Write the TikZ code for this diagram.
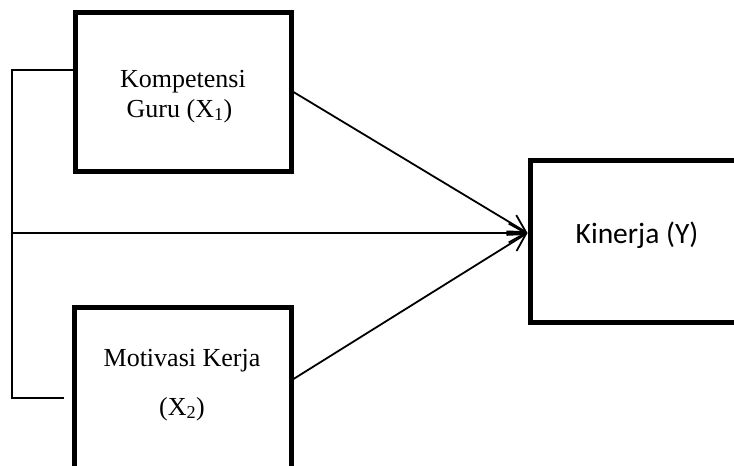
\documentclass[tikz,border=0pt]{standalone}
\usepackage{fontspec}
\setmainfont{Liberation Serif}
\newfontfamily\sansfam{Carlito}
\usetikzlibrary{arrows.meta}
\begin{document}
\begin{tikzpicture}[x=1pt,y=-1pt,
  box/.style={draw, line width=5pt, rectangle, inner sep=0pt},
  conn/.style={draw, line width=1.8pt},
  arr/.style={-{Straight Barb[length=17pt,width=19pt]}},
  serif/.style={inner sep=0pt, font=\fontsize{26}{31}\selectfont},
  sanstxt/.style={inner sep=0pt, font=\sansfam\fontsize{29.5}{34}\selectfont}]
\clip (0,0) rectangle (734,466);
\node[box, minimum width=215.5pt, minimum height=159pt] (b1) at (183.25,91.5) {};
\node[box, minimum width=216.5pt, minimum height=162pt] (b2) at (182.75,388) {};
\node[box, minimum width=208pt, minimum height=162pt] (b3) at (634,241) {};
\node[serif, anchor=base] (t1a) at (183,87) {Kompetensi};
\node[serif, anchor=base] (t1b) at (179.5,117) {Guru (X\textsubscript{1})};
\node[serif, anchor=base] (t2a) at (182,366) {Motivasi Kerja};
\node[serif, anchor=base] (t2b) at (182,415) {(X\textsubscript{2})};
\node[sanstxt, anchor=base] (t3) at (637,243) {Kinerja (Y)};
\coordinate (ctop) at (12,70);
\coordinate (cmid) at (12,233);
\coordinate (cbot) at (12,398);
\coordinate (cbotend) at (64,398);
\draw[conn] (b1.west |- ctop) -- (ctop) -- (cbot) -- (cbotend);
\draw[conn, arr] (cmid) -- (b3.west |- cmid);
\draw[conn, arr] ([yshift=-0.5pt]b1.east) -- ([yshift=8pt]b3.west);
\draw[conn, arr] ([yshift=9pt]b2.east) -- ([yshift=8pt]b3.west);
\end{tikzpicture}
\end{document}
